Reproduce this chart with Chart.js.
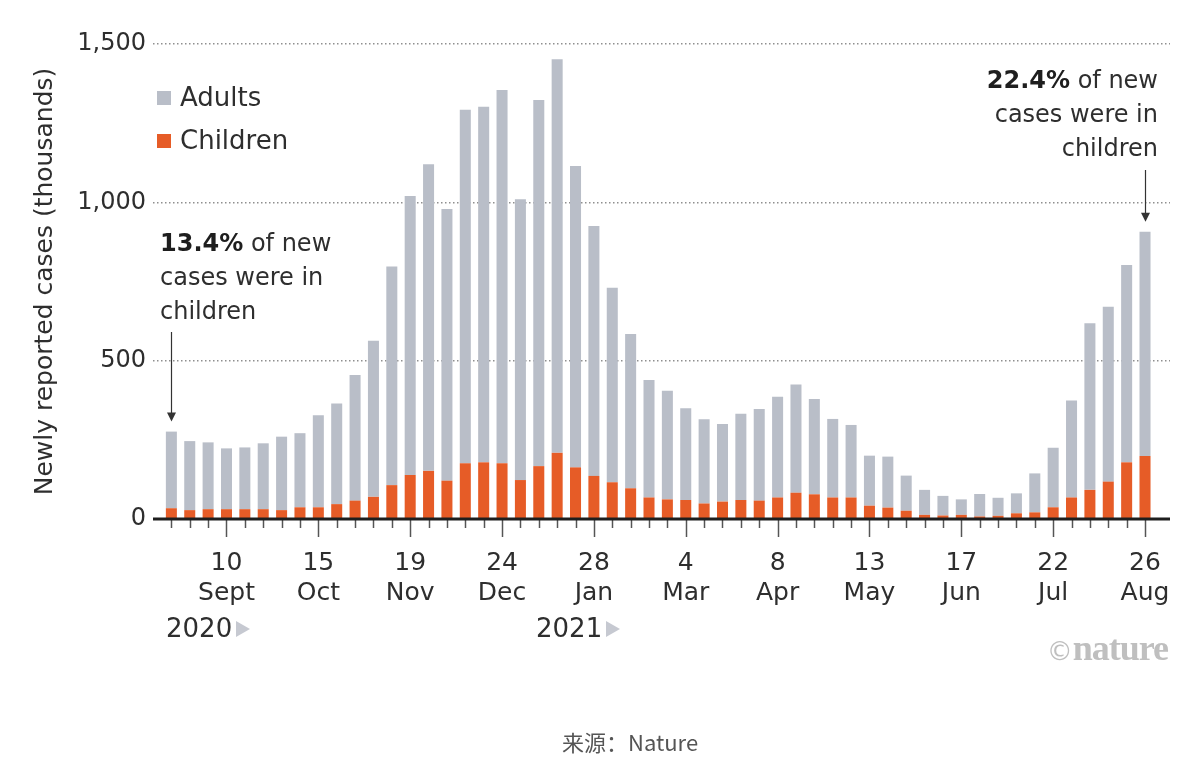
<!DOCTYPE html>
<html>
<head>
<meta charset="utf-8">
<script src="https://cdn.jsdelivr.net/npm/chart.js@4"></script>
<style>
  html, body { margin: 0; padding: 0; background: #fff; }
  #wrap { position: relative; width: 1200px; height: 783px; overflow: hidden; font-family: "DejaVu Sans", sans-serif; color: #2e2e2e; }
  canvas { position: absolute; left: 0; top: 0; }
  .ov { position: absolute; white-space: nowrap; }
  .legend-item { position: absolute; left: 157px; font-size: 26px; line-height: 30px; height: 30px; }
  .legend-item .sw { display: inline-block; width: 14px; height: 14px; margin-right: 9px; vertical-align: 1px; }
  .note { font-size: 24px; line-height: 34px; }
  .note b { font-weight: bold; color: #1e1e1e; }
  .year { font-size: 26px; line-height: 30px; }
  .tri { display: inline-block; width: 0; height: 0; border-top: 8px solid transparent; border-bottom: 8px solid transparent; border-left: 14px solid #c6c9d1; margin-left: 4px; vertical-align: 0px; }
  .logo { font-family: "Liberation Serif", "DejaVu Serif", serif; font-weight: bold; color: #bfbfbf; font-size: 36px; line-height: 40px; letter-spacing: -1px; }
  .logo .c { font-family: "DejaVu Sans", sans-serif; font-weight: normal; font-size: 26px; letter-spacing: 0; }
  .src { font-family: "Noto Sans CJK SC", "Noto Sans", sans-serif; font-size: 22px; line-height: 26px; color: #555; }
</style>
</head>
<body>
<div id="wrap">
  <canvas id="c" width="1200" height="783"></canvas>

  <div class="legend-item" style="top:82px;"><span class="sw" style="background:#b9bec8;"></span>Adults</div>
  <div class="legend-item" style="top:125px;"><span class="sw" style="background:#e65c27;"></span>Children</div>

  <div class="ov note" style="left:160px; top:226px;"><b>13.4%</b> of new<br>cases were in<br>children</div>
  <div class="ov note" style="right:42px; top:63px; text-align:right;"><b>22.4%</b> of new<br>cases were in<br>children</div>

  <div class="ov year" style="left:166px; top:613px;">2020<span class="tri"></span></div>
  <div class="ov year" style="left:536px; top:613px;">2021<span class="tri"></span></div>

  <div class="ov logo" style="right:32px; top:628px;"><span class="c">©</span>nature</div>
  <div class="ov src" style="left:562px; top:728px;">来源：Nature</div>
</div>

<script>
// Weekly periods, 20 Aug 2020 – 26 Aug 2021 (thousands of newly reported cases)
const weekIndex = Array.from({length: 54}, (_, i) => i);

const childrenCases = [
  34, 28, 31, 31, 31, 31, 28, 37, 37, 47,
  58, 70, 107, 139, 152, 121, 176, 179, 176, 123,
  167, 209, 163, 136, 116, 97, 68, 62, 60, 49,
  55, 60, 58, 68, 83, 78, 68, 68, 42, 36,
  26, 13, 11, 13, 8, 10, 18, 21, 37, 68,
  92, 118, 179, 199
];

const adultCases = [
  242, 218, 211, 192, 195, 208, 232, 234, 291, 318,
  397, 493, 690, 881, 968, 858, 1116, 1123, 1179, 887,
  1156, 1243, 952, 789, 614, 487, 371, 343, 290, 266,
  245, 272, 289, 318, 342, 301, 248, 229, 158, 161,
  111, 79, 62, 49, 71, 57, 63, 123, 188, 306,
  526, 552, 623, 708
];

// labelled weeks: index -> [day, month]
const tickWeeks  = [3, 8, 13, 18, 23, 28, 33, 38, 43, 48, 53];
const tickDays   = ['10', '15', '19', '24', '28', '4', '8', '13', '17', '22', '26'];
const tickMonths = ['Sept', 'Oct', 'Nov', 'Dec', 'Jan', 'Mar', 'Apr', 'May', 'Jun', 'Jul', 'Aug'];

const yTicks = [0, 500, 1000, 1500];

// annotated weeks (arrows)
const arrowWeeks = [0, 53];
const arrowStartY = [332, 170];

const FONT = '"DejaVu Sans", sans-serif';

const axisPlugin = {
  id: 'axisPlugin',
  afterDatasetsDraw(chart) {
    const ctx = chart.ctx;
    const xs = chart.scales.x, ys = chart.scales.y;
    const y0 = ys.getPixelForValue(0);
    ctx.save();
    // tick marks
    ctx.strokeStyle = '#555';
    ctx.lineWidth = 1.5;
    weekIndex.forEach(i => {
      const x = Math.round(xs.getPixelForValue(i)) + 0.5;
      const len = tickWeeks.includes(i) ? 18 : 9;
      ctx.beginPath();
      ctx.moveTo(x, y0);
      ctx.lineTo(x, y0 + len);
      ctx.stroke();
    });
    // axis line
    ctx.strokeStyle = '#1e1e1e';
    ctx.lineWidth = 3;
    ctx.beginPath();
    ctx.moveTo(chart.chartArea.left, y0);
    ctx.lineTo(chart.chartArea.right, y0);
    ctx.stroke();
    // arrows
    ctx.strokeStyle = '#333';
    ctx.fillStyle = '#333';
    ctx.lineWidth = 1.2;
    arrowWeeks.forEach((w, k) => {
      const x = Math.round(xs.getPixelForValue(w)) + 0.5;
      const top = ys.getPixelForValue(childrenCases[w] + adultCases[w]);
      const tip = top - 10;
      ctx.beginPath();
      ctx.moveTo(x, arrowStartY[k]);
      ctx.lineTo(x, tip - 8);
      ctx.stroke();
      ctx.beginPath();
      ctx.moveTo(x - 4.5, tip - 9);
      ctx.lineTo(x + 4.5, tip - 9);
      ctx.lineTo(x, tip);
      ctx.closePath();
      ctx.fill();
    });
    ctx.restore();
  }
};

new Chart(document.getElementById('c'), {
  type: 'bar',
  data: {
    labels: weekIndex,
    datasets: [
      {
        label: 'Children',
        data: weekIndex.map(i => ({x: i, y: childrenCases[i]})),
        backgroundColor: '#e65c27',
        barPercentage: 0.6,
        categoryPercentage: 1.0
      },
      {
        label: 'Adults',
        data: weekIndex.map(i => ({x: i, y: adultCases[i]})),
        backgroundColor: '#b9bec8',
        barPercentage: 0.6,
        categoryPercentage: 1.0
      }
    ]
  },
  options: {
    responsive: false,
    animation: false,
    devicePixelRatio: 1,
    layout: { padding: { left: 0, right: 30, top: 44, bottom: 0 } },
    plugins: { legend: { display: false }, tooltip: { enabled: false } },
    scales: {
      x: {
        type: 'linear',
        stacked: true,
        min: -1,
        max: 54.36,
        offset: false,
        grid: { display: false },
        border: { display: false },
        afterBuildTicks(scale) { scale.ticks = tickWeeks.map(v => ({value: v})); },
        afterFit(scale) { scale.height = 264; },
        ticks: {
          autoSkip: false,
          maxRotation: 0,
          padding: 21,
          color: '#2e2e2e',
          font: { family: FONT, size: 25, lineHeight: 1.2 },
          callback(value) {
            const k = tickWeeks.indexOf(value);
            return k >= 0 ? [tickDays[k], tickMonths[k]] : '';
          }
        }
      },
      y: {
        stacked: true,
        min: 0,
        max: 1500,
        afterBuildTicks(scale) { scale.ticks = yTicks.map(v => ({value: v})); },
        afterFit(scale) { scale.width = 153; },
        border: { display: false, dash: [1.5, 2.5] },
        grid: {
          drawTicks: false,
          color: ctx => ctx.tick && ctx.tick.value === 0 ? 'rgba(0,0,0,0)' : '#8f8f8f',
          lineWidth: 1.5
        },
        ticks: {
          padding: 7,
          color: '#2e2e2e',
          font: { family: FONT, size: 24 },
          callback: v => v.toLocaleString('en-US')
        },
        title: {
          display: true,
          text: 'Newly reported cases (thousands)',
          color: '#2e2e2e',
          font: { family: FONT, size: 25, lineHeight: 1.2 },
          padding: { top: 30, bottom: 0 }
        }
      }
    }
  },
  plugins: [axisPlugin]
});
</script>
</body>
</html>
